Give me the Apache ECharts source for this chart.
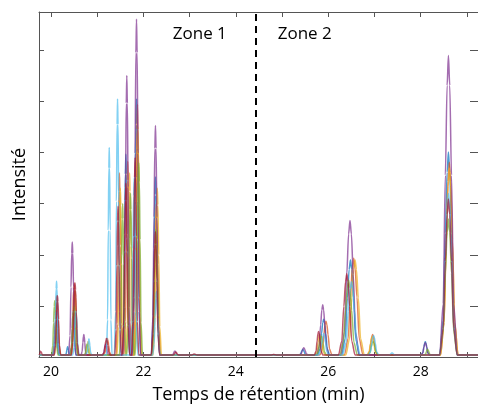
<!DOCTYPE html>
<html>
<head>
<meta charset="utf-8">
<script src="https://cdn.jsdelivr.net/npm/echarts@6/dist/echarts.min.js"></script>
<style>
  html, body { margin: 0; padding: 0; background: #fff; }
  #chart { width: 478px; height: 409px; }
</style>
</head>
<body>
<div id="chart"></div>
<script>
// axes
const xMin = 19.74;
const xMax = 29.24;
const xTicks = [20, 21, 22, 23, 24, 25, 26, 27, 28, 29];
const xLabels = [20, 22, 24, 26, 28];
const yTicks = [0, 1, 2, 3, 4, 5, 6];
const yMax = 6.75;
const zoneSplit = 24.43;
const baseline = 0.04;

// peaks of each chromatogram: [retention time, height, half base width]
const bluePeaks = [
  [20.1, 0.7, 0.07], [20.36, 0.2, 0.05], [20.48, 0.9, 0.06],
  [21.62, 3.97, 0.08], [21.85, 5.05, 0.09], [22.26, 3.52, 0.09],
  [25.45, 0.15, 0.08], [25.9, 0.74, 0.13], [26.48, 1.9, 0.19],
  [28.1, 0.3, 0.09], [28.6, 4.01, 0.19],
];
const orangePeaks = [
  [20.12, 1.2, 0.07], [20.5, 1.45, 0.08], [21.22, 0.36, 0.08],
  [21.48, 3.6, 0.07], [21.66, 3.83, 0.08], [21.87, 4.94, 0.08],
  [22.28, 3.0, 0.09], [25.95, 0.7, 0.13], [26.55, 1.93, 0.2],
  [26.96, 0.44, 0.11], [28.62, 3.81, 0.19],
];
const yellowPeaks = [
  [20.14, 0.8, 0.07], [20.52, 1.3, 0.08], [20.8, 0.3, 0.06],
  [21.5, 3.3, 0.07], [21.7, 3.6, 0.08], [21.88, 4.5, 0.08],
  [22.3, 3.3, 0.09], [25.82, 0.45, 0.11], [26.58, 1.9, 0.2],
  [26.95, 0.4, 0.11], [28.62, 3.7, 0.19],
];
const purplePeaks = [
  [20.12, 0.9, 0.07], [20.46, 2.25, 0.08], [20.71, 0.44, 0.06],
  [21.18, 0.25, 0.07], [21.64, 5.51, 0.08], [21.85, 6.61, 0.09],
  [22.26, 4.53, 0.09], [22.68, 0.12, 0.06], [25.47, 0.18, 0.09],
  [25.88, 1.02, 0.13], [26.47, 2.67, 0.2], [28.1, 0.28, 0.09],
  [28.6, 5.9, 0.19],
];
const greenPeaks = [
  [20.08, 1.1, 0.07], [20.5, 1.0, 0.08], [20.78, 0.25, 0.06],
  [21.55, 3.0, 0.07], [21.72, 3.2, 0.08], [21.9, 3.8, 0.08],
  [22.27, 2.5, 0.09], [25.85, 0.4, 0.11], [26.44, 1.5, 0.19],
  [26.97, 0.3, 0.11], [28.15, 0.15, 0.07], [28.6, 2.7, 0.19],
];
const cyanPeaks = [
  [20.12, 1.48, 0.06], [20.54, 0.9, 0.07], [20.82, 0.35, 0.06],
  [21.26, 4.1, 0.06], [21.44, 5.05, 0.07], [21.8, 3.5, 0.08],
  [22.28, 1.28, 0.08], [25.9, 0.46, 0.11], [26.5, 1.47, 0.19],
  [26.98, 0.42, 0.11], [27.38, 0.08, 0.07], [28.6, 3.2, 0.19],
];
const redPeaks = [
  [19.78, 0.12, 0.04], [20.14, 1.2, 0.07], [20.52, 1.45, 0.08],
  [21.2, 0.36, 0.08], [21.45, 2.95, 0.07], [21.62, 3.4, 0.08],
  [21.82, 3.9, 0.08], [22.26, 2.45, 0.09], [22.7, 0.1, 0.06],
  [23.1, 0.06, 0.06], [24.82, 0.05, 0.06], [25.79, 0.5, 0.09],
  [26.4, 1.63, 0.18], [28.6, 3.09, 0.19],
];

const traces = [
  { peaks: bluePeaks, color: "#0072BD" },
  { peaks: orangePeaks, color: "#D95319" },
  { peaks: yellowPeaks, color: "#EDB120" },
  { peaks: purplePeaks, color: "#7E2F8E" },
  { peaks: greenPeaks, color: "#77AC30" },
  { peaks: cyanPeaks, color: "#4DBEEE" },
  { peaks: redPeaks, color: "#A2142F" },
];

// outline of one peak, relative to its half width and height (bell shape)
const peakOutline = [
  [-1, 0], [-0.6, 0.17], [-0.35, 0.6], [-0.15, 0.9], [0, 1],
  [0.15, 0.9], [0.35, 0.6], [0.6, 0.17], [1, 0],
];

// turn the peak table into a polyline along the baseline
const toLine = (peaks) => {
  const pts = [[xMin, baseline]];
  peaks.forEach(([c, h, w]) => {
    peakOutline.forEach(([dx, f]) => {
      pts.push([c + dx * w, baseline + f * (h - baseline)]);
    });
  });
  pts.push([xMax, baseline]);
  return pts;
};

const font = "'Open Sans', sans-serif";
const axisColor = "#555";

const myChart = echarts.init(document.getElementById("chart"));

const series = traces.map((t) => ({
  type: "line",
  data: toLine(t.peaks),
  showSymbol: false,
  smooth: 0.3,
  smoothMonotone: "x",
  lineStyle: { color: t.color, width: 1.5, opacity: 0.7 },
  silent: true,
  animation: false,
}));

// dashed zone separator and zone names
series.push({
  type: "line",
  data: [],
  silent: true,
  animation: false,
  markLine: {
    symbol: "none",
    silent: true,
    label: { show: false },
    lineStyle: { color: "#000", width: 2, type: [7, 5] },
    data: [{ xAxis: zoneSplit }],
  },
  markPoint: {
    symbol: "circle",
    symbolSize: 0,
    silent: true,
    label: {
      show: true,
      position: "inside",
      color: "#000",
      fontSize: 17,
      fontFamily: font,
      formatter: (p) => p.name,
    },
    data: [
      { name: "Zone 1", coord: [23.22, 6.32] },
      { name: "Zone 2", coord: [25.49, 6.32] },
    ],
  },
});

const options = {
  animation: false,
  grid: { left: 39, top: 12, width: 440, height: 347 },
  xAxis: [
    {
      type: "value",
      min: xMin,
      max: xMax,
      position: "bottom",
      name: "Temps de rétention (min)",
      nameLocation: "middle",
      nameGap: 29,
      nameTextStyle: { color: "#000", fontSize: 18, fontFamily: font },
      axisLine: { show: true, lineStyle: { color: axisColor, width: 1 } },
      axisTick: { show: true, inside: true, length: 5, customValues: xTicks, lineStyle: { color: axisColor } },
      axisLabel: { show: true, customValues: xLabels, color: "#000", fontSize: 14, fontFamily: font, margin: 8 },
      splitLine: { show: false },
    },
    {
      type: "value",
      min: xMin,
      max: xMax,
      position: "top",
      axisLine: { show: true, onZero: false, lineStyle: { color: axisColor, width: 1 } },
      axisTick: { show: true, inside: true, length: 5, customValues: xTicks, lineStyle: { color: axisColor } },
      axisLabel: { show: false },
      splitLine: { show: false },
    },
  ],
  yAxis: [
    {
      type: "value",
      min: 0,
      max: yMax,
      position: "left",
      name: "Intensité",
      nameLocation: "middle",
      nameGap: 10,
      nameTextStyle: { color: "#000", fontSize: 18, fontFamily: font },
      axisLine: { show: true, lineStyle: { color: axisColor, width: 1 } },
      axisTick: { show: true, inside: true, length: 5, customValues: yTicks, lineStyle: { color: axisColor } },
      axisLabel: { show: false },
      splitLine: { show: false },
    },
    {
      type: "value",
      min: 0,
      max: yMax,
      position: "right",
      axisLine: { show: true, onZero: false, lineStyle: { color: axisColor, width: 1 } },
      axisTick: { show: true, inside: true, length: 8, customValues: yTicks, lineStyle: { color: axisColor } },
      axisLabel: { show: false },
      splitLine: { show: false },
    },
  ],
  series,
};

myChart.setOption(options);
</script>
</body>
</html>
